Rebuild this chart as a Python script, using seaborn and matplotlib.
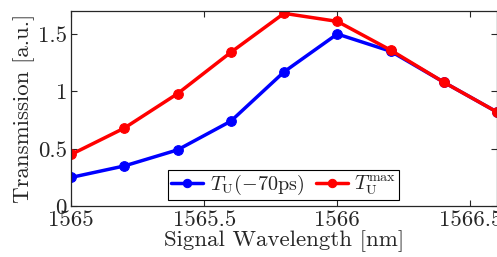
import matplotlib.pyplot as plt
import seaborn as sns
import pandas as pd

wavelength = [1565.0, 1565.2, 1565.4, 1565.6, 1565.8, 1566.0, 1566.2, 1566.4, 1566.6]
t_u_70ps = [0.25, 0.35, 0.49, 0.74, 1.17, 1.50, 1.35, 1.08, 0.82]
t_u_max = [0.45, 0.68, 0.98, 1.34, 1.68, 1.61, 1.36, 1.08, 0.82]
labels = [r'$T_{\rm U}(-70{\rm ps})$', r'$T_{\rm U}^{\max}$']

sns.set_style('ticks')
plt.rcParams['font.family'] = ['cmr10', 'DejaVu Serif']
plt.rcParams['mathtext.fontset'] = 'cm'
plt.rcParams['axes.formatter.use_mathtext'] = True

df = pd.DataFrame({
    'wl': wavelength * 2,
    'T': t_u_70ps + t_u_max,
    'series': [labels[0]] * len(wavelength) + [labels[1]] * len(wavelength),
})

fig = plt.figure(figsize=(4.97, 2.57), dpi=100)
ax = fig.add_axes([0.143, 0.198, 0.857, 0.759])

sns.lineplot(data=df, x='wl', y='T', hue='series', palette=['#0000ff', '#ff0000'],
             marker='o', markersize=7, linewidth=2.5, ax=ax)
# matlab-style solid markers
for ln in ax.lines:
    ln.set_markeredgecolor(ln.get_color())

ax.set_xlim(1565, 1566.6)
ax.set_ylim(0, 1.7)
ax.set_xticks([1565, 1565.5, 1566, 1566.5])
ax.set_xticklabels(['1565', '1565.5', '1566', '1566.5'])
ax.set_yticks([0, 0.5, 1, 1.5])
ax.set_yticklabels(['0', '0.5', '1', '1.5'])
ax.tick_params(direction='in', top=True, right=True, labelsize=16.5, length=4, width=0.8, pad=3)
for s in ax.spines.values():
    s.set_linewidth(0.9)
    s.set_visible(True)
ax.set_xlabel('Signal Wavelength [nm]', fontsize=16.5, labelpad=0)
ax.set_ylabel('Transmission [a.u.]', fontsize=16.5, labelpad=2)

leg = ax.legend(loc='lower right', bbox_to_anchor=(0.78, 0.01), ncol=2, fontsize=14.5,
                frameon=True, fancybox=False, edgecolor='black', framealpha=1,
                handlelength=1.6, columnspacing=0.6, handletextpad=0.3,
                borderpad=0.15, borderaxespad=0.2)
leg.get_frame().set_linewidth(0.8)
for h in leg.get_lines():
    h.set_markeredgecolor(h.get_color())
    h.set_markersize(6)

fig.savefig('out.png', dpi=100)
